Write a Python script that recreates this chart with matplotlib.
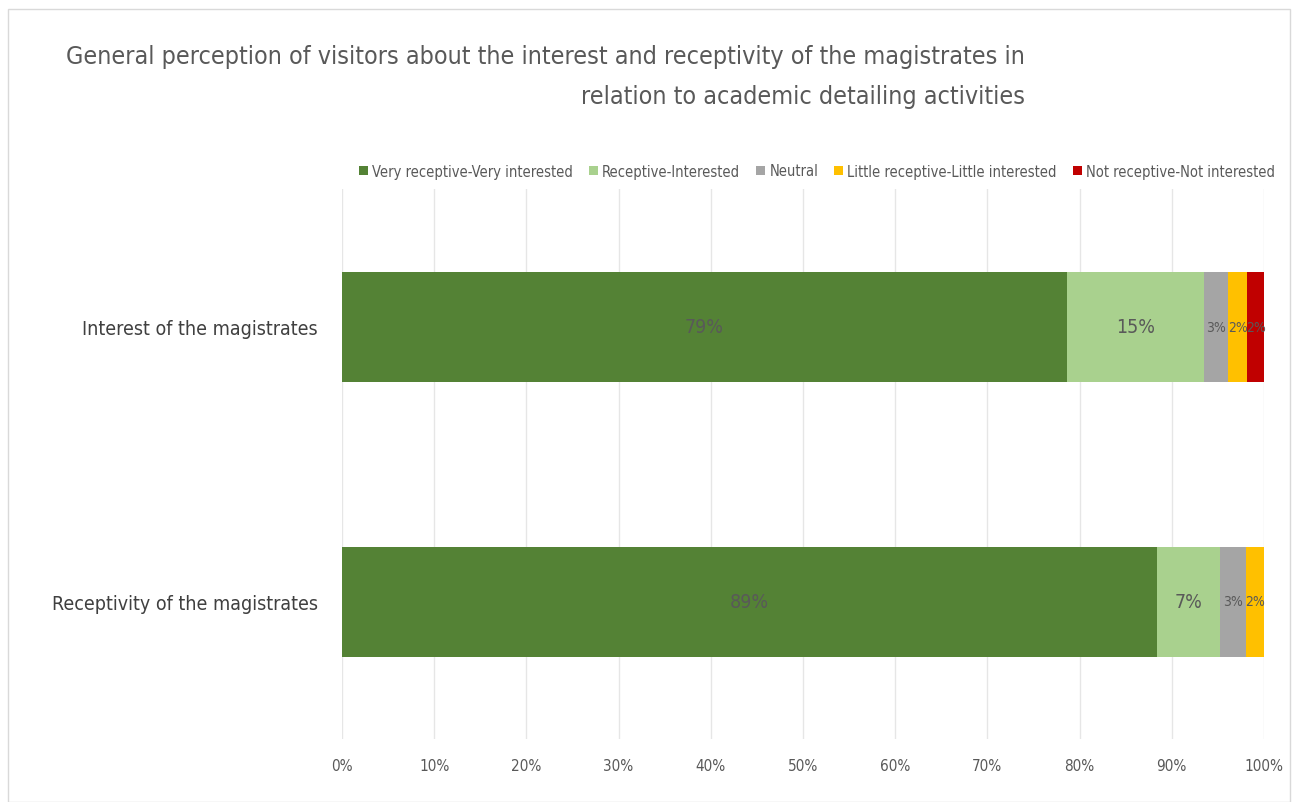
import matplotlib
matplotlib.use("Agg")
import matplotlib.pyplot as plt
from matplotlib.patches import Rectangle
import numpy as np

categories = ["Receptivity of the magistrates", "Interest of the magistrates"]
series_names = ["Very receptive-Very interested", "Receptive-Interested", "Neutral",
                "Little receptive-Little interested", "Not receptive-Not interested"]
# percentages per series, [Receptivity, Interest]
very = [88.4, 78.6]
receptive = [6.8, 14.9]
neutral = [2.8, 2.6]
little = [2.0, 2.1]
notrec = [0.0, 1.8]
labels_very = ["89%", "79%"]
labels_receptive = ["7%", "15%"]
labels_neutral = ["3%", "3%"]
labels_little = ["2%", "2%"]
labels_not = ["", "2%"]
colors = ["#548235", "#A9D18E", "#A5A5A5", "#FFC000", "#C00000"]
xticks = [0, 10, 20, 30, 40, 50, 60, 70, 80, 90, 100]

plt.rcParams['font.family'] = ['Liberation Sans Narrow', 'DejaVu Sans']
FONT = dict(fontstretch='condensed')

fig = plt.figure(figsize=(12.99, 8.03), dpi=100)
fig.patch.set_facecolor("white")
fig.patches.append(Rectangle((8/1299, 0.0), 1282/1299, 1 - 10/803, transform=fig.transFigure,
                             fill=False, edgecolor="#D9D9D9", linewidth=1.0))

ax = fig.add_axes([342/1299, 63/803, 922/1299, 550/803])
data = [very, receptive, neutral, little, notrec]
labs = [labels_very, labels_receptive, labels_neutral, labels_little, labels_not]
y = np.arange(len(categories))
left = np.zeros(len(categories))
for vals, lab, col, name in zip(data, labs, colors, series_names):
    vals = np.array(vals)
    ax.barh(y, vals, left=left, height=0.4, color=col, label=name, zorder=3)
    for i, (v, l) in enumerate(zip(vals, lab)):
        if l:
            fs = 14 if v > 5 else 10
            ax.text(left[i] + v / 2, y[i], l, ha="center", va="center", fontsize=fs,
                    color="#595959", zorder=4, **FONT)
    left += vals

ax.set_xlim(0, 100)
ax.set_ylim(-0.5, 1.5)
ax.set_xticks(xticks)
ax.set_xticklabels([f"{t}%" for t in xticks], fontsize=11, color="#595959", **FONT)
ax.set_yticks(y)
ax.set_yticklabels(categories, fontsize=14, color="#404040", **FONT)
ax.tick_params(axis="both", length=0)
ax.tick_params(axis="x", pad=14)
ax.tick_params(axis="y", pad=17.5)
ax.grid(axis="x", color="#E6E6E6", linewidth=1.0, zorder=0)
for s in ax.spines.values():
    s.set_visible(False)

fig.text(1025/1299, 1 - 57/803, "General perception of visitors about the interest and receptivity of the magistrates in",
         ha="right", va="center", fontsize=18, color="#595959", **FONT)
fig.text(1025/1299, 1 - 97/803, "relation to academic detailing activities",
         ha="right", va="center", fontsize=18, color="#595959", **FONT)

handles, hl = ax.get_legend_handles_labels()
leg = fig.legend(handles, hl, loc="center", bbox_to_anchor=((349 + 1285) / 2 / 1299, 1 - 172 / 803),
                 ncol=5, frameon=False, fontsize=10.5, handlelength=0.6, handleheight=0.6,
                 handletextpad=0.3, columnspacing=1.1)
for t in leg.get_texts():
    t.set_color("#595959")
    t.set_fontstretch("condensed")

fig.savefig("out.png", dpi=100)
